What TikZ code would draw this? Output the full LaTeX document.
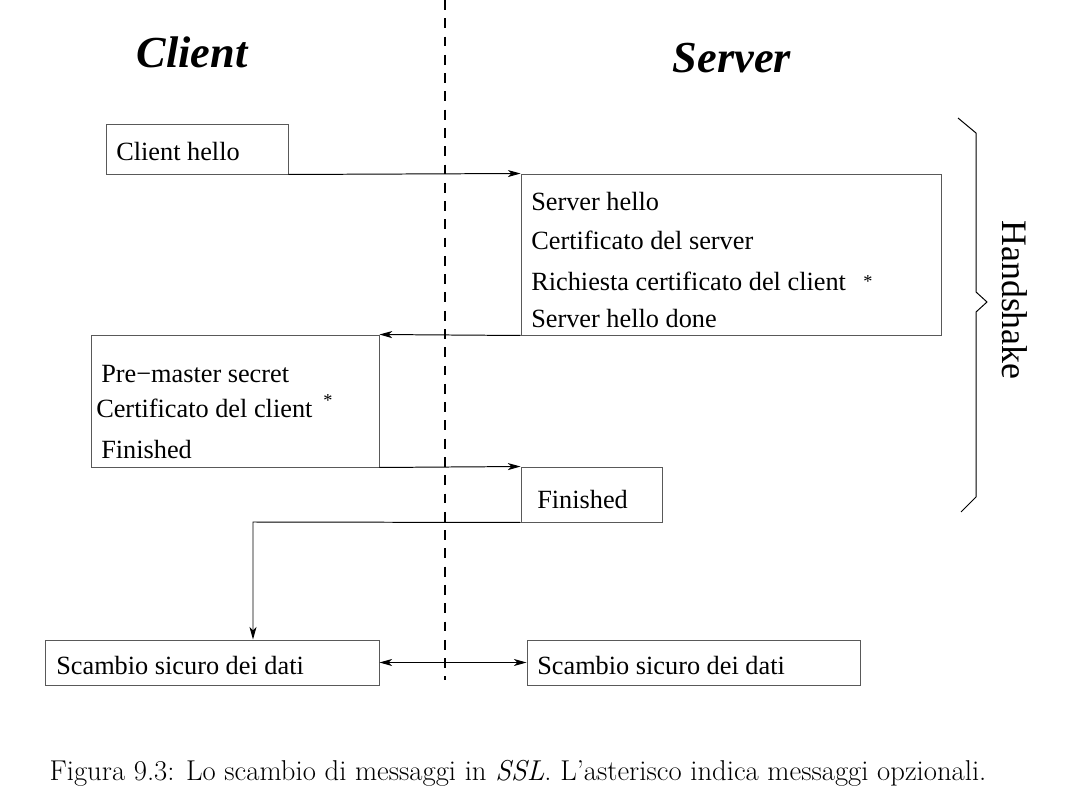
\documentclass[tikz,border=0pt]{standalone}
\usepackage{fontspec}
\newfontfamily\tms{Liberation Serif}
\usetikzlibrary{arrows.meta,fit}

\tikzset{
  box/.style={draw=black!65, line width=0.7pt, inner sep=0pt},
  msg/.style={draw=black, line width=0.7pt, -{Stealth[length=9pt,width=5pt,inset=2.5pt]}},
  txt/.style={anchor=base west, inner sep=0pt, font=\tms\fontsize{18.7}{20}\selectfont},
  star/.style={inner sep=0pt, font=\tms\fontsize{13}{13}\selectfont},
  title/.style={inner sep=0pt, font=\tms\bfseries\itshape\fontsize{31.5}{34}\selectfont}
}

\begin{document}
\begin{tikzpicture}[x=0.025cm, y=-0.025cm]
  \useasboundingbox (0,0) rectangle (1073,800);

  % linea di separazione
  \draw[line width=1.4pt, dash pattern=on 7pt off 6pt] (445,0) -- (445,680);

  \node[title] (client) at (192,52) {Client};
  \node[title] (server) at (732,58) {Server};

  % riquadri dei messaggi
  \node[box, fit={(106,124) (288,174)}] (hello) {};
  \node[box, fit={(521,174) (941,335)}] (srv) {};
  \node[box, fit={(91,335) (379,467)}] (cli) {};
  \node[box, fit={(521,467) (662,522)}] (fin) {};
  \node[box, fit={(45,640) (379,685)}] (datiL) {};
  \node[box, fit={(527,640) (860,685)}] (datiR) {};

  \node[txt] (t1) at (116,161) {Client hello};
  \node[txt] (t2) at (531,211) {Server hello};
  \node[txt] (t3) at (531,250) {Certificato del server};
  \node[txt] (t4) at (531,291) {Richiesta certificato del client};
  \node[star] (s1) at (868,282) {*};
  \node[txt] (t5) at (531,328) {Server hello done};
  \node[txt] (t6) at (101,383) {Pre−master secret};
  \node[txt] (t7) at (96,418) {Certificato del client};
  \node[star] (s2) at (328,401) {*};
  \node[txt] (t8) at (101,458) {Finished};
  \node[txt] (t9) at (537,508) {Finished};
  \node[txt] (t10) at (56,674) {Scambio sicuro dei dati};
  \node[txt] (t11) at (537,674) {Scambio sicuro dei dati};

  % frecce
  \draw[msg] (hello.south east) -- (srv.north west);
  \draw[msg] (srv.south west) -- (cli.north east);
  \draw[msg] (cli.south east) -- (fin.north west);
  \coordinate (bend) at (253,522);
  \draw[msg] (fin.south west) -- (bend) -- (bend |- datiL.north);
  \draw[msg, {Stealth[length=9pt,width=5pt,inset=2.5pt]}-{Stealth[length=9pt,width=5pt,inset=2.5pt]}] (datiL.east) -- (datiR.west);

  % graffa
  \draw[line width=0.7pt] (958,118) -- (976,133) -- (976,292) -- (987,302)
    -- (976,312) -- (976,497) -- (961,512);
  \node[inner sep=0pt, rotate=-90, font=\tms\fontsize{25.5}{27}\selectfont] (hs) at (1015,300) {Handshake};

  \node[inner sep=0pt, font=\fontsize{20.4}{24}\selectfont] (cap) at (518,773)
    {Figura 9.3: Lo scambio di messaggi in \textit{SSL}. L'asterisco indica messaggi opzionali.};
\end{tikzpicture}
\end{document}
